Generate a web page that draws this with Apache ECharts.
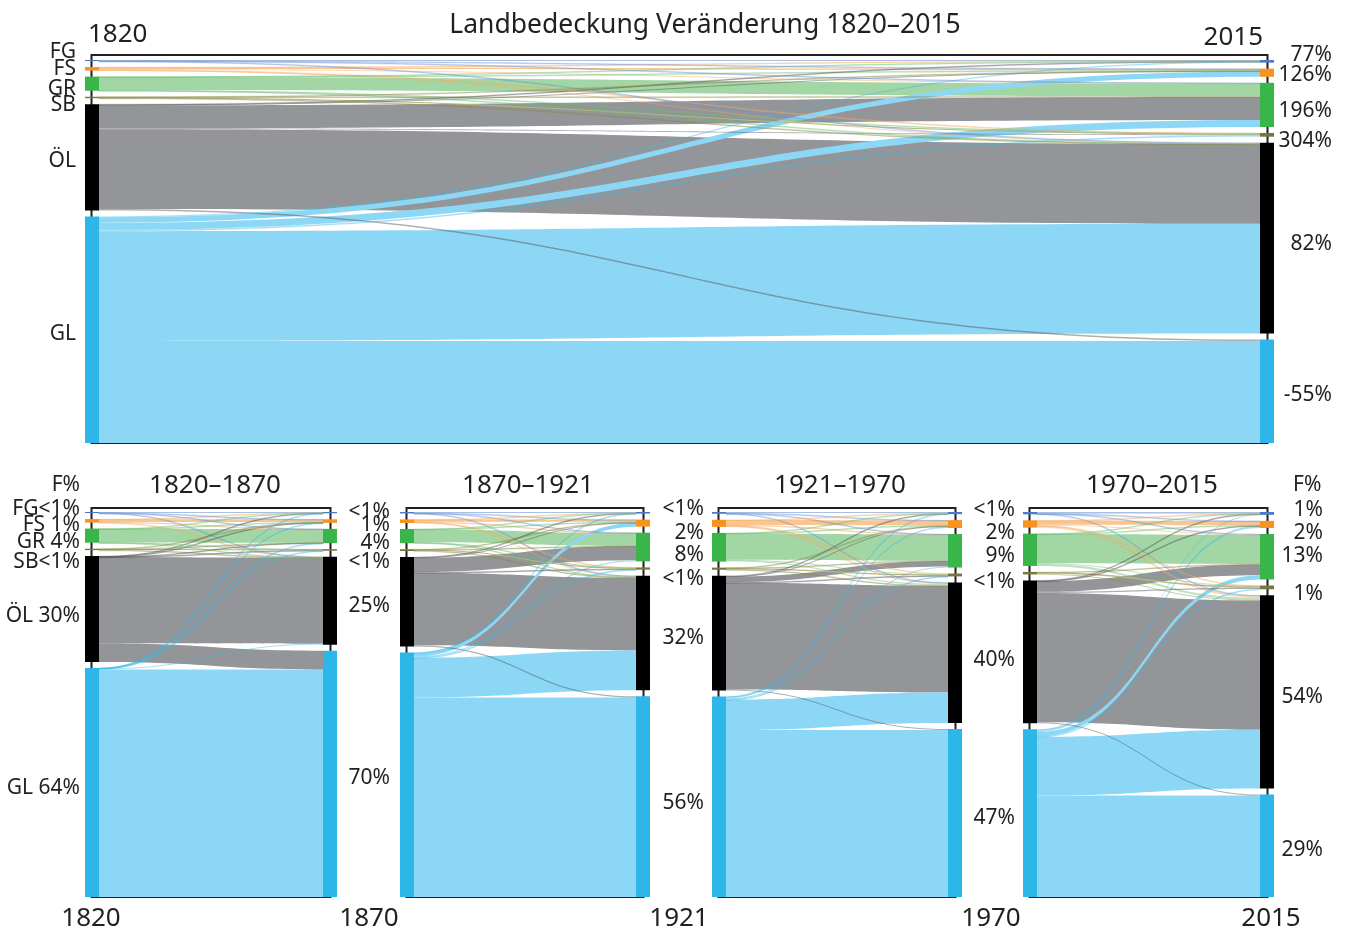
<!DOCTYPE html>
<html>
<head>
<meta charset="utf-8">
<title>Landbedeckung Veränderung 1820–2015</title>
<script src="https://cdn.jsdelivr.net/npm/echarts@6/dist/echarts.min.js"></script>
<style>
  html, body { margin: 0; padding: 0; background: #fff; }
  #chart { width: 1346px; height: 930px; }
</style>
</head>
<body>
<div id="chart"></div>
<script>
// land cover classes, top to bottom
const classes = ['FG', 'FS', 'GR', 'SB', 'ÖL', 'GL'];
const years = ['1820', '1870', '1921', '1970', '2015'];

// share of area per year, as printed next to the nodes
const share1820 = ['<1%', '1%', '4%', '<1%', '30%', '64%'];
const share1870 = ['<1%', '1%', '4%', '<1%', '25%', '70%'];
const share1921 = ['<1%', '2%', '8%', '<1%', '32%', '56%'];
const share1970 = ['<1%', '2%', '9%', '<1%', '40%', '47%'];
const share2015 = ['1%', '2%', '13%', '1%', '54%', '29%'];
// change of each class 1820 -> 2015
const change1820to2015 = ['77%', '126%', '196%', '304%', '82%', '-55%'];

// flows in % of the area, rows = from, cols = to (FG FS GR SB ÖL GL)
const flows1820to2015 = [
  [0.2, 0.03, 0.03, 0, 0.04, 0],
  [0.1, 0.45, 0.2, 0.05, 0.2, 0],
  [0.05, 0.1, 3.65, 0.1, 0.1, 0],
  [0, 0.02, 0.1, 0.2, 0.08, 0],
  [0.1, 0.2, 6.5, 0.3, 22.5, 0.4],
  [0.3, 1.5, 2.0, 0.4, 31, 28.8]
];
const flows1820to1870 = [
  [0.2, 0.02, 0.03, 0, 0.05, 0],
  [0.05, 0.8, 0.05, 0, 0.1, 0],
  [0.03, 0.05, 3.85, 0.03, 0.04, 0],
  [0, 0.02, 0.03, 0.3, 0.05, 0],
  [0.05, 0.1, 0.05, 0.1, 24.4, 5.3],
  [0.03, 0.03, 0.03, 0.02, 0.3, 64.5]
];
const flows1870to1921 = [
  [0.25, 0.03, 0.05, 0, 0.07, 0],
  [0.03, 0.6, 0.1, 0.02, 0.25, 0],
  [0.02, 0.1, 3.6, 0.1, 0.18, 0],
  [0, 0.05, 0.03, 0.3, 0.12, 0],
  [0.05, 0.2, 4.0, 0.15, 20.4, 0.35],
  [0.1, 1.0, 0.3, 0.05, 11.2, 56]
];
const flows1921to1970 = [
  [0.3, 0.05, 0.05, 0, 0.1, 0],
  [0.05, 1.4, 0.1, 0.05, 0.4, 0],
  [0.05, 0.1, 7.3, 0.2, 0.35, 0],
  [0, 0.05, 0.1, 0.35, 0.1, 0],
  [0.1, 0.2, 1.5, 0.15, 29.8, 0.3],
  [0.1, 0.4, 0.3, 0.05, 8.5, 46.6]
];
const flows1970to2015 = [
  [0.4, 0.05, 0.05, 0, 0.15, 0],
  [0.05, 1.2, 0.2, 0.05, 0.55, 0],
  [0.05, 0.05, 8.2, 0.2, 0.55, 0],
  [0, 0, 0.1, 0.4, 0.2, 0],
  [0.1, 0.1, 3.0, 0.3, 36.2, 0.3],
  [0.2, 0.6, 1.2, 0.1, 16.5, 28.4]
];

const nodeColors = ['#4a7bc6', '#f7931e', '#3ab54a', '#76773a', '#000000', '#2db7e9'];
const linkColors = ['#a9c0e6', '#fcc48f', '#a3d6a5', '#b8b87e', '#939598', '#8dd7f6'];
const thinColors = ['#6d93d0', '#f5a85e', '#6cbf72', '#8a8a45', '#4d4d4f', '#3cbbe9'];
const font = '"Noto Sans", "DejaVu Sans", sans-serif';
const ink = '#231f20';

function leftText(i, shares) {
  if (!shares) return classes[i];
  return classes[i] + (shares[i][0] === '<' ? '' : ' ') + shares[i];
}

// one sankey between two years
function buildSankey(flows, box, leftLabels, rightLabels, lab) {
  const nodes = [];
  classes.forEach((c, i) => {
    nodes.push({
      name: 'a' + c, depth: 0,
      itemStyle: { color: nodeColors[i] },
      label: leftLabels ? {
        show: true, position: 'left', distance: lab.leftDist,
        formatter: leftLabels[i], offset: [0, lab.leftOff[i]]
      } : { show: false }
    });
  });
  classes.forEach((c, i) => {
    nodes.push({
      name: 'b' + c, depth: 1,
      itemStyle: { color: nodeColors[i] },
      label: rightLabels ? {
        show: true, position: 'right', distance: lab.rightDist, align: 'right',
        formatter: rightLabels[i], offset: [0, lab.rightOff[i]]
      } : { show: false }
    });
  });
  const links = [];
  flows.forEach((row, i) => row.forEach((v, j) => {
    if (v <= 0) return;
    const thin = v < 1 && i !== j;
    links.push({
      source: 'a' + classes[i], target: 'b' + classes[j], value: v,
      lineStyle: {
        color: thin ? thinColors[i] : linkColors[i],
        opacity: thin ? 0.45 : 1,
        borderColor: thin ? thinColors[i] : linkColors[i],
        borderWidth: v < 0.2 ? 0.4 : 0
      }
    });
  }));
  links.sort((a, b) => b.value - a.value);
  return {
    type: 'sankey',
    left: box.left, top: box.top, width: box.width, height: box.height,
    nodeWidth: 14, nodeGap: 6, layoutIterations: 0, nodeAlign: 'justify',
    draggable: false, silent: true,
    emphasis: { disabled: true },
    lineStyle: { curveness: 0.5 },
    label: { color: ink, fontFamily: font, fontSize: lab.fontSize },
    data: nodes, links: links
  };
}

const mainBox = { left: 85, top: 60, width: 1189, height: 383 };
const smallBoxes = [
  { left: 85, top: 512, width: 252, height: 385 },
  { left: 400, top: 512, width: 250, height: 385 },
  { left: 712, top: 512, width: 250, height: 385 },
  { left: 1023, top: 512, width: 251, height: 385 }
];
const smallFlows = [flows1820to1870, flows1870to1921, flows1921to1970, flows1970to2015];
const smallShares = [share1870, share1921, share1970, share2015];
const smallRightOff = [
  [-1, 4, 7, 12, 5, 4],
  [-4, 10, 8, 10, 5, 6],
  [-3, 9, 5, 7, 7, 5],
  [-3, 9, -1, 7, 5, 4]
];
const smallRightDist = [53, 54, 53, 49];

const series = [
  buildSankey(flows1820to2015, mainBox,
    classes.map((c, i) => leftText(i)), change1820to2015,
    { fontSize: 21, leftDist: 9, rightDist: 58,
      leftOff: [-9, 0, 5, 8, 4, 4], rightOff: [-6, 2, 6, 6, 6, 4] })
];
smallBoxes.forEach((box, k) => {
  series.push(buildSankey(smallFlows[k], box,
    k === 0 ? classes.map((c, i) => leftText(i, share1820)) : null,
    smallShares[k],
    { fontSize: 21, leftDist: 5, rightDist: smallRightDist[k],
      leftOff: [-4, 4, 6, 13, 7, 6], rightOff: smallRightOff[k] }));
});

// frames around each sankey
function frame(box, frameTop) {
  return {
    type: 'rect', z: 0,
    shape: { x: box.left + 6.5, y: frameTop, width: box.width - 13, height: box.top + box.height - frameTop },
    style: { fill: 'none', stroke: ink, lineWidth: 2 }
  };
}
function text(str, x, y, size, align) {
  return {
    type: 'text', x: x, y: y, z: 10,
    style: { text: str, font: size + 'px ' + font, fill: ink, align: align || 'center', verticalAlign: 'middle' }
  };
}

const graphics = [frame(mainBox, 55)];
smallBoxes.forEach(b => graphics.push(frame(b, 508)));
graphics.push(text('Landbedeckung Veränderung 1820–2015', 705, 25, 26.5));
graphics.push(text(years[0], 88, 35, 26, 'left'));
graphics.push(text(years[4], 1263, 38, 26, 'right'));
const subTitleX = [215, 528, 840, 1152];
subTitleX.forEach((x, k) => graphics.push(text(years[k] + '–' + years[k + 1], x, 486, 26)));
graphics.push(text('F%', 80, 485, 21, 'right'));
graphics.push(text('F%', 1293, 485, 21, 'left'));
const bottomYearX = [91, 369, 679, 991, 1271];
bottomYearX.forEach((x, k) => graphics.push(text(years[k], x, 919, 26)));

const chart = echarts.init(document.getElementById('chart'));
chart.setOption({
  animation: false,
  backgroundColor: '#ffffff',
  series: series,
  graphic: graphics
});
</script>
</body>
</html>
